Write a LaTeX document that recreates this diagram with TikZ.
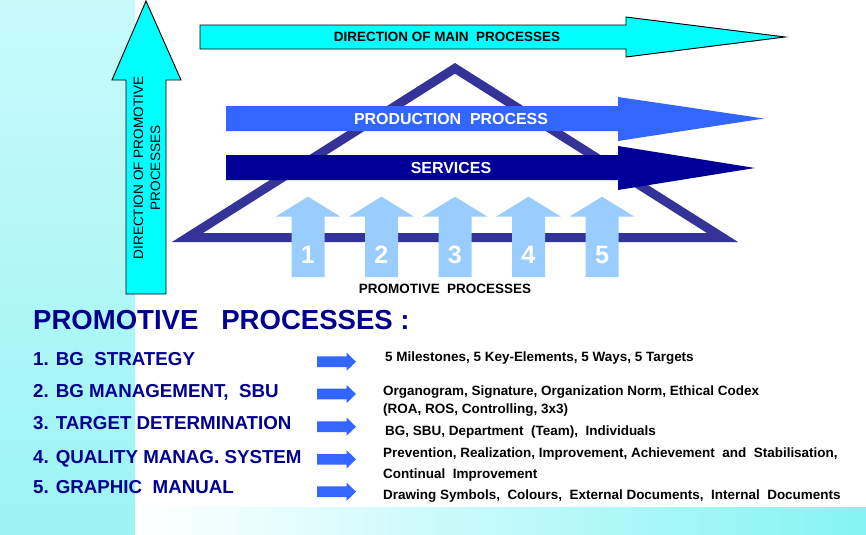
\documentclass[tikz,border=0pt]{standalone}
\usepackage{fontspec}
\setmainfont{Liberation Sans}
\usepackage{xcolor}
\usepackage{tikz}
\usetikzlibrary{positioning}

\definecolor{stripTop}{HTML}{C8FAFA}
\definecolor{stripBot}{HTML}{9CF4F4}
\definecolor{stripEnd}{HTML}{84F4F4}
\definecolor{dirCyan}{HTML}{00FFFF}
\definecolor{prodBlue}{HTML}{3366FF}
\definecolor{servBlue}{HTML}{000099}
\definecolor{triBlue}{HTML}{333399}
\definecolor{promoBlue}{HTML}{99CCFF}
\definecolor{navyText}{HTML}{000090}

\begin{document}
\begin{tikzpicture}[x=0.3mm, y=-0.3mm,
    edge/.style={draw=black, line width=0.8pt, line join=miter},
    lbl/.style={inner sep=0pt, font=\bfseries\fontsize{11.5}{13}\selectfont},
    wlbl/.style={inner sep=0pt, text=white, font=\bfseries\fontsize{13.6}{15}\selectfont},
    num/.style={anchor=base, inner sep=0pt, text=white, font=\bfseries\fontsize{21.5}{23}\selectfont},
    item/.style={anchor=base west, inner sep=0pt, text=navyText, font=\bfseries\fontsize{16}{18}\selectfont},
    desc/.style={anchor=base west, inner sep=0pt, font=\bfseries\fontsize{11.5}{13}\selectfont},
  ]
  \useasboundingbox (0,0) rectangle (866,534);
  \shade[top color=stripTop, bottom color=stripBot] (0,0) rectangle (135,534);
  \shade[left color=white, right color=stripEnd] (135,507) rectangle (866,534);

  % upright arrow on the left, flat arrow on top
  \filldraw[edge, fill=dirCyan] (126,294) -- (126,80) -- (112,80) -- (146,1) -- (181,80)
    -- (166,80) -- (166,294) -- cycle;
  \node[inner sep=0pt, rotate=90, align=center, font=\fontsize{11.6}{14.5}\selectfont]
    (promodir) at (147,168) {DIRECTION OF PROMOTIVE\\PROCESSES};
  \filldraw[edge, fill=dirCyan] (200,25) -- (626,25) -- (626,17) -- (785,37) -- (626,57)
    -- (626,49) -- (200,49) -- cycle;
  \node[lbl] (maindir) at (447,37) {DIRECTION OF MAIN\ \ PROCESSES};

  \draw[triBlue, line width=2.7mm, line join=miter] (187.5,237.5) -- (455,68.3) -- (722.5,237.5) -- cycle;

  \fill[prodBlue] (226,106) -- (618,106) -- (618,97) -- (764,118.5) -- (618,141) -- (618,131)
    -- (226,131) -- cycle;
  \node[wlbl] (prod) at (451,119) {PRODUCTION\ \ PROCESS};
  \fill[servBlue] (226,155) -- (618,155) -- (618,146) -- (755,168) -- (618,190) -- (618,180)
    -- (226,180) -- cycle;
  \node[wlbl] (serv) at (451,168) {SERVICES};

  \foreach \n [evaluate=\n as \cx using 308+73.5*(\n-1)] in {1,...,5} {
    \fill[promoBlue] (\cx-16.5,277) -- (\cx-16.5,216.7) -- (\cx-32.5,216.7) -- (\cx,196.7)
      -- (\cx+32.5,216.7) -- (\cx+16.5,216.7) -- (\cx+16.5,277) -- cycle;
    \node[num] (p\n) at (\cx,263.5) {\n};
  }
  \node[lbl] (promo) at (445,289) {PROMOTIVE\ \ PROCESSES};

  \node[anchor=base west, inner sep=0pt, text=navyText, font=\bfseries\fontsize{23.5}{26}\selectfont]
    (head) at (33,329) {PROMOTIVE\ \ \ PROCESSES\ :};
  \foreach \n/\yb/\txt in {1/365/{1. BG\ \ STRATEGY}, 2/397.3/{2. BG MANAGEMENT,\ \ SBU},
      3/429/{3. TARGET DETERMINATION}, 4/463.3/{4. QUALITY MANAG. SYSTEM},
      5/493.3/{5. GRAPHIC\ \ MANUAL}}
    \node[item] (item\n) at (33,\yb) {\txt};

  \foreach \ya in {361.7,394,426.7,459.3,491.7}
    \fill[prodBlue] (317,\ya-5.3) -- (346.7,\ya-5.3) -- (346.7,\ya-9) -- (356,\ya)
      -- (346.7,\ya+9) -- (346.7,\ya+5.3) -- (317,\ya+5.3) -- cycle;

  \node[desc] (d1) at (385,361.7) {5 Milestones, 5 Key-Elements, 5 Ways, 5 Targets};
  \node[desc] (d2) at (383,395.7) {Organogram, Signature, Organization Norm, Ethical Codex};
  \node[desc] (d2b) at (383,413.3) {(ROA, ROS, Controlling, 3x3)};
  \node[desc] (d3) at (385,435) {BG, SBU, Department\ \ (Team),\ \ Individuals};
  \node[desc] (d4) at (383,457.3) {Prevention, Realization, Improvement, Achievement\ \ and\ \ Stabilisation,};
  \node[desc] (d4b) at (383,478.3) {Continual\ \ Improvement};
  \node[desc] (d5) at (383,499.3) {Drawing Symbols,\ \ Colours,\ \ External Documents,\ \ Internal\ \ Documents};
\end{tikzpicture}
\end{document}
